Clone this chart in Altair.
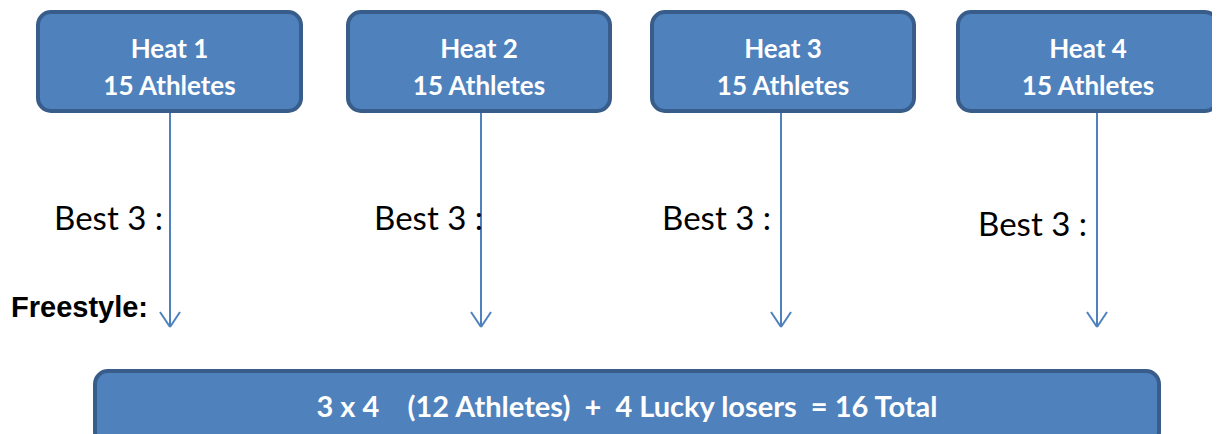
import altair as alt
import pandas as pd

# ---- content ----
heat_labels = ["Heat 1", "Heat 2", "Heat 3", "Heat 4"]
heat_counts = ["15 Athletes", "15 Athletes", "15 Athletes", "15 Athletes"]
best_labels = ["Best 3 :", "Best 3 :", "Best 3 :", "Best 3 :"]
side_label = "Freestyle:"
NB = "\u00a0"
summary_label = "3 x 4" + NB * 3 + " (12 Athletes)" + NB + " +" + NB + " 4 Lucky losers" + NB + " = 16 Total"

# ---- layout (pixel space of the picture) ----
box_left = [38, 348, 652, 958]
box_right = [301, 610, 914, 1218]
box_top = 12
box_bottom = 111
arrow_x = [170, 481, 781, 1097]
arrow_end = 327
best_right = [163, 483, 771, 1087]
best_y = [220, 220, 220, 226]
sum_left, sum_right, sum_top, sum_bottom = 95, 1159, 371, 445

FILL = "#4F81BD"
EDGE = "#385D8A"

W, H = 1204, 426


def xs():
    return alt.Scale(domain=[8, 8 + W], zero=False, nice=False)


def ys():
    return alt.Scale(domain=[8 + H, 8], zero=False, nice=False)


boxes = pd.DataFrame({
    "x": box_left + [sum_left],
    "x2": box_right + [sum_right],
    "y": [box_top] * 4 + [sum_top],
    "y2": [box_bottom] * 4 + [sum_bottom],
})
box_layer = alt.Chart(boxes).mark_rect(
    fill=FILL, stroke=EDGE, strokeWidth=4, cornerRadius=13
).encode(
    x=alt.X("x:Q", scale=xs(), axis=None), x2="x2:Q",
    y=alt.Y("y:Q", scale=ys(), axis=None), y2="y2:Q",
)

segs = []
for ax in arrow_x:
    segs.append({"x": ax, "x2": ax, "y": box_bottom + 1, "y2": arrow_end})
    segs.append({"x": ax - 10, "x2": ax, "y": arrow_end - 15, "y2": arrow_end})
    segs.append({"x": ax + 10, "x2": ax, "y": arrow_end - 15, "y2": arrow_end})
seg_df = pd.DataFrame(segs)
arrow_layer = alt.Chart(seg_df).mark_rule(color=FILL, strokeWidth=2).encode(
    x=alt.X("x:Q", scale=xs(), axis=None), x2="x2:Q",
    y=alt.Y("y:Q", scale=ys(), axis=None), y2="y2:Q",
)

heat_df = pd.DataFrame({
    "x": [(l + r) / 2 for l, r in zip(box_left, box_right)],
    "y1": [50] * 4,
    "y2": [87] * 4,
    "t1": heat_labels,
    "t2": heat_counts,
})
heat_t1 = alt.Chart(heat_df).mark_text(
    font="Lato", fontWeight="bold", fontSize=26, color="white", baseline="middle"
).encode(x=alt.X("x:Q", scale=xs(), axis=None), y=alt.Y("y1:Q", scale=ys(), axis=None), text="t1:N")
heat_t2 = alt.Chart(heat_df).mark_text(
    font="Lato", fontWeight="bold", fontSize=26, color="white", baseline="middle"
).encode(x=alt.X("x:Q", scale=xs(), axis=None), y=alt.Y("y2:Q", scale=ys(), axis=None), text="t2:N")

best_df = pd.DataFrame({"x": best_right, "y": best_y, "t": best_labels})
best_layer = alt.Chart(best_df).mark_text(
    font="Lato", fontSize=33, color="black", align="right", baseline="middle"
).encode(x=alt.X("x:Q", scale=xs(), axis=None), y=alt.Y("y:Q", scale=ys(), axis=None), text="t:N")

side_df = pd.DataFrame({"x": [11], "y": [308], "t": [side_label]})
side_layer = alt.Chart(side_df).mark_text(
    font="Liberation Sans", fontWeight="bold", fontSize=29, color="black", align="left", baseline="middle"
).encode(x=alt.X("x:Q", scale=xs(), axis=None), y=alt.Y("y:Q", scale=ys(), axis=None), text="t:N")

sum_df = pd.DataFrame({"x": [627], "y": [408], "t": [summary_label]})
sum_layer = alt.Chart(sum_df).mark_text(
    font="Lato", fontWeight="bold", fontSize=29, color="white", baseline="middle"
).encode(x=alt.X("x:Q", scale=xs(), axis=None), y=alt.Y("y:Q", scale=ys(), axis=None), text="t:N")

chart = alt.layer(
    arrow_layer, box_layer, heat_t1, heat_t2, best_layer, side_layer, sum_layer
).properties(
    width=W, height=H, padding=0, autosize=alt.AutoSizeParams(type="none")
).configure(background="white", view=alt.ViewConfig(stroke=None))

chart.save("out.html", embed_options={"renderer": "svg", "actions": False})
